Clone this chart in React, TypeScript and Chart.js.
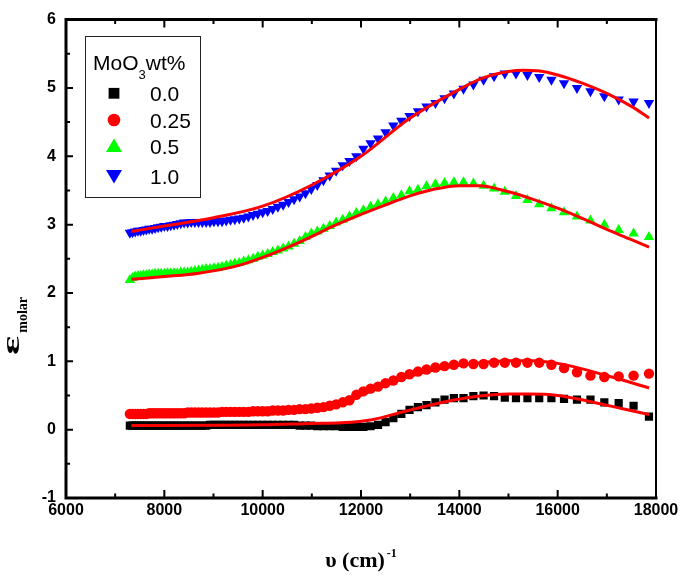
import React, { useEffect, useRef } from "react";
import { Chart, registerables } from "chart.js";
Chart.register(...registerables);

// Wavenumbers of the measured points (cm^-1)
const wavenumbers = [
  7299, 7353, 7407, 7463, 7519, 7576, 7634, 7692, 7752, 7813,
  7874, 7937, 8000, 8065, 8130, 8197, 8264, 8333, 8403, 8475,
  8547, 8621, 8696, 8772, 8850, 8929, 9009, 9091, 9174, 9259,
  9346, 9434, 9524, 9615, 9709, 9804, 9901, 10000, 10101, 10204,
  10309, 10417, 10526, 10638, 10753, 10870, 10989, 11111, 11236, 11364,
  11494, 11628, 11765, 11905, 12048, 12195, 12346, 12500, 12658, 12821,
  12987, 13158, 13333, 13514, 13699, 13889, 14085, 14286, 14493, 14706,
  14925, 15152, 15385, 15625, 15873, 16129, 16393, 16667, 16949, 17241,
  17544, 17857,
];

const eps00 = [
  0.06, 0.06, 0.06, 0.06, 0.06, 0.06, 0.06, 0.06, 0.06, 0.06,
  0.06, 0.06, 0.06, 0.06, 0.06, 0.06, 0.06, 0.06, 0.06, 0.06,
  0.06, 0.06, 0.06, 0.06, 0.06, 0.07, 0.07, 0.07, 0.07, 0.07,
  0.07, 0.07, 0.07, 0.07, 0.07, 0.07, 0.07, 0.07, 0.07, 0.07,
  0.07, 0.07, 0.07, 0.07, 0.06, 0.06, 0.06, 0.05, 0.05, 0.05,
  0.05, 0.04, 0.04, 0.04, 0.04, 0.05, 0.07, 0.11, 0.17, 0.23,
  0.29, 0.33, 0.36, 0.40, 0.44, 0.46, 0.46, 0.49, 0.50, 0.49,
  0.47, 0.46, 0.46, 0.46, 0.46, 0.45, 0.44, 0.44, 0.40, 0.39,
  0.35, 0.19,
];

const eps025 = [
  0.23, 0.23, 0.23, 0.23, 0.23, 0.23, 0.23, 0.24, 0.24, 0.24,
  0.24, 0.24, 0.24, 0.24, 0.24, 0.24, 0.24, 0.24, 0.24, 0.25,
  0.25, 0.25, 0.25, 0.25, 0.25, 0.25, 0.25, 0.25, 0.26, 0.26,
  0.26, 0.26, 0.26, 0.26, 0.26, 0.27, 0.27, 0.27, 0.27, 0.28,
  0.28, 0.28, 0.29, 0.29, 0.30, 0.30, 0.31, 0.32, 0.33, 0.35,
  0.37, 0.40, 0.43, 0.51, 0.56, 0.60, 0.63, 0.68, 0.72, 0.77,
  0.81, 0.85, 0.88, 0.91, 0.93, 0.95, 0.97, 0.96, 0.96, 0.98,
  0.98, 0.98, 0.98, 0.98, 0.95, 0.90, 0.84, 0.79, 0.77, 0.78,
  0.79, 0.82,
];

const eps05 = [
  2.19, 2.22, 2.24, 2.25, 2.25, 2.26, 2.26, 2.27, 2.27, 2.28,
  2.28, 2.28, 2.28, 2.29, 2.29, 2.29, 2.29, 2.30, 2.30, 2.30,
  2.31, 2.32, 2.33, 2.34, 2.35, 2.35, 2.36, 2.37, 2.38, 2.40,
  2.41, 2.43, 2.44, 2.46, 2.48, 2.50, 2.53, 2.55, 2.57, 2.60,
  2.62, 2.65, 2.68, 2.72, 2.76, 2.82, 2.87, 2.90, 2.94, 2.98,
  3.03, 3.07, 3.12, 3.17, 3.21, 3.26, 3.30, 3.34, 3.39, 3.43,
  3.49, 3.51, 3.56, 3.59, 3.61, 3.62, 3.62, 3.60, 3.57, 3.53,
  3.48, 3.42, 3.36, 3.30, 3.24, 3.18, 3.12, 3.06, 3.00, 2.92,
  2.87, 2.82,
];

const eps10 = [
  2.88, 2.89, 2.90, 2.91, 2.91, 2.92, 2.93, 2.94, 2.94, 2.95,
  2.96, 2.97, 2.98, 2.98, 2.99, 3.00, 3.01, 3.02, 3.03, 3.03,
  3.04, 3.04, 3.04, 3.04, 3.04, 3.04, 3.05, 3.05, 3.05, 3.06,
  3.07, 3.08, 3.09, 3.10, 3.12, 3.14, 3.16, 3.18, 3.20, 3.23,
  3.26, 3.29, 3.33, 3.37, 3.41, 3.46, 3.52, 3.58, 3.65, 3.72,
  3.79, 3.87, 3.93, 4.00, 4.11, 4.19, 4.26, 4.35, 4.45, 4.52,
  4.59, 4.66, 4.73, 4.78, 4.85, 4.92, 4.99, 5.05, 5.12, 5.17,
  5.21, 5.21, 5.19, 5.16, 5.12, 5.07, 5.00, 4.95, 4.88, 4.83,
  4.80, 4.78,
];

// Fitted curves
const fitX00 = [7330, 9000, 10000, 11000, 11600, 12250, 12900, 13600, 14300, 15000, 15400, 16000, 16600, 17300, 17860];
const fit00 = [0.06, 0.065, 0.07, 0.09, 0.10, 0.15, 0.27, 0.39, 0.48, 0.52, 0.52, 0.50, 0.42, 0.31, 0.22];

const fitX025 = [7330, 8500, 10000, 11000, 11600, 12250, 12900, 13600, 14300, 15000, 15500, 16000, 16500, 17000, 17300, 17860];
const fit025 = [0.22, 0.23, 0.25, 0.30, 0.39, 0.58, 0.76, 0.89, 0.97, 1.01, 1.01, 0.97, 0.89, 0.79, 0.73, 0.61];

const fitX05 = [7330, 8000, 8700, 9500, 10000, 10800, 11500, 12000, 12500, 13000, 13500, 14000, 14400, 15000, 15500, 16000, 16500, 17000, 17500, 17860];
const fit05 = [2.20, 2.24, 2.29, 2.40, 2.52, 2.76, 3.00, 3.15, 3.29, 3.42, 3.52, 3.57, 3.57, 3.48, 3.37, 3.24, 3.09, 2.93, 2.78, 2.67];

const fitX10 = [7330, 8000, 9000, 10000, 11000, 12000, 13000, 14000, 14500, 15000, 15300, 15600, 16000, 16500, 17000, 17500, 17860];
const fit10 = [2.90, 2.98, 3.10, 3.27, 3.58, 4.00, 4.56, 4.98, 5.15, 5.24, 5.26, 5.25, 5.19, 5.07, 4.92, 4.73, 4.56];

const xTicks = [6000, 8000, 10000, 12000, 14000, 16000, 18000];
const yTicks = [-1, 0, 1, 2, 3, 4, 5, 6];
const legendLabels = ["0.0", "0.25", "0.5", "1.0"];
const legendColors = ["#000000", "#ff0000", "#00ff00", "#0000ff"];

const SANS = '"Liberation Sans", Arial, sans-serif';
const SERIF = '"Liberation Serif", "Times New Roman", serif';

const pts = (xs: number[], ys: number[]) => xs.map((x, i) => ({ x, y: ys[i] }));

const decorPlugin = {
  id: "decor",
  afterDraw(chart: any) {
    const ctx = chart.ctx as CanvasRenderingContext2D;
    const xs = chart.scales.x;
    const ys = chart.scales.y;
    const { left, right, top, bottom } = chart.chartArea;
    ctx.save();
    ctx.strokeStyle = "#000";
    ctx.fillStyle = "#000";

    // frame
    ctx.lineCap = "square";
    ctx.lineWidth = 3;
    ctx.beginPath();
    ctx.moveTo(left, top);
    ctx.lineTo(left, bottom);
    ctx.lineTo(right, bottom);
    ctx.moveTo(left, top);
    ctx.lineTo(right, top);
    ctx.stroke();
    ctx.lineWidth = 2;
    ctx.beginPath();
    ctx.moveTo(right, top);
    ctx.lineTo(right, bottom);
    ctx.stroke();

    // ticks (inward)
    ctx.lineCap = "butt";
    ctx.lineWidth = 2;
    ctx.beginPath();
    for (let i = 0; i < xTicks.length; i++) {
      const v = xTicks[i];
      if (i > 0 && i < xTicks.length - 1) {
        const p = xs.getPixelForValue(v);
        ctx.moveTo(p, bottom); ctx.lineTo(p, bottom - 8);
        ctx.moveTo(p, top); ctx.lineTo(p, top + 8);
      }
      if (i < xTicks.length - 1) {
        const m = xs.getPixelForValue((v + xTicks[i + 1]) / 2);
        ctx.moveTo(m, bottom); ctx.lineTo(m, bottom - 4.5);
        ctx.moveTo(m, top); ctx.lineTo(m, top + 4.5);
      }
    }
    for (let i = 0; i < yTicks.length; i++) {
      const v = yTicks[i];
      if (i > 0 && i < yTicks.length - 1) {
        const p = ys.getPixelForValue(v);
        ctx.moveTo(left, p); ctx.lineTo(left + 7, p);
      }
      if (i < yTicks.length - 1) {
        const m = ys.getPixelForValue((v + yTicks[i + 1]) / 2);
        ctx.moveTo(left, m); ctx.lineTo(left + 4, m);
      }
    }
    ctx.stroke();

    // legend
    ctx.lineWidth = 1;
    ctx.strokeStyle = "#222";
    ctx.strokeRect(85.5, 36.5, 115, 161);
    ctx.fillStyle = "#000";
    ctx.textBaseline = "alphabetic";
    ctx.textAlign = "left";
    ctx.font = `21px ${SANS}`;
    let tx = 93;
    ctx.fillText("MoO", tx, 70);
    tx += ctx.measureText("MoO").width;
    ctx.font = `13px ${SANS}`;
    ctx.fillText("3", tx, 79);
    tx += ctx.measureText("3").width;
    ctx.font = `21px ${SANS}`;
    ctx.fillText("wt%", tx, 70);

    const rows = [93.3, 120, 146, 176];
    const cx = 114;
    for (let i = 0; i < 4; i++) {
      const cy = rows[i];
      ctx.fillStyle = legendColors[i];
      ctx.beginPath();
      if (i === 0) {
        ctx.rect(cx - 5.4, cy - 5.4, 10.8, 10.8);
      } else if (i === 1) {
        ctx.arc(cx, cy, 6.3, 0, Math.PI * 2);
      } else if (i === 2) {
        ctx.moveTo(cx, cy - 7.5);
        ctx.lineTo(cx + 8, cy + 6);
        ctx.lineTo(cx - 8, cy + 6);
        ctx.closePath();
      } else {
        ctx.moveTo(cx - 8, cy - 6);
        ctx.lineTo(cx + 8, cy - 6);
        ctx.lineTo(cx, cy + 7.5);
        ctx.closePath();
      }
      ctx.fill();
      ctx.fillStyle = "#000";
      ctx.font = `21px ${SANS}`;
      ctx.fillText(legendLabels[i], 150, cy + 7.6);
    }

    // x axis title
    ctx.font = `bold 22px ${SERIF}`;
    const main = "\u03c5 (cm)";
    const wMain = ctx.measureText(main).width;
    ctx.font = `bold 12px ${SERIF}`;
    const sup = "-1";
    const wSup = ctx.measureText(sup).width;
    const total = wMain + 2 + wSup;
    const cxT = (left + right) / 2;
    const sx = cxT - total / 2;
    ctx.font = `bold 22px ${SERIF}`;
    ctx.fillText(main, sx, 567);
    ctx.font = `bold 12px ${SERIF}`;
    ctx.fillText(sup, sx + wMain + 2, 557);

    // y axis title (rotated)
    ctx.save();
    ctx.translate(19, 355);
    ctx.rotate(-Math.PI / 2);
    ctx.font = `bold 25px ${SERIF}`;
    const wE = ctx.measureText("\u03b5").width;
    const stretch = Math.min(1.8, 25 / wE);
    ctx.save();
    ctx.scale(stretch, 1);
    ctx.fillText("\u03b5", 0, 0);
    ctx.restore();
    ctx.font = `bold 14px ${SERIF}`;
    ctx.fillText("molar", wE * stretch + 3, 8);
    ctx.restore();

    ctx.restore();
  },
};

export default function App() {
  const ref = useRef<HTMLCanvasElement | null>(null);
  useEffect(() => {
    document.body.style.margin = "0";
    const canvas = ref.current;
    if (!canvas) return;
    const scatterBase = { type: "scatter" as const, showLine: false, pointBorderWidth: 0, order: 1 };
    const fitBase = {
      type: "line" as const,
      showLine: true,
      pointRadius: 0,
      borderColor: "#ff0000",
      borderWidth: 3,
      fill: false,
      cubicInterpolationMode: "monotone" as const,
      order: 0,
    };
    const chart = new Chart(canvas, {
      type: "scatter",
      data: {
        datasets: [
          { ...fitBase, label: "fit 0.0", data: pts(fitX00, fit00) },
          { ...fitBase, label: "fit 0.25", data: pts(fitX025, fit025) },
          { ...fitBase, label: "fit 0.5", data: pts(fitX05, fit05) },
          { ...fitBase, label: "fit 1.0", data: pts(fitX10, fit10) },
          {
            ...scatterBase, label: legendLabels[0], data: pts(wavenumbers, eps00),
            pointStyle: "rect", pointRadius: 5.8, backgroundColor: legendColors[0],
          },
          {
            ...scatterBase, label: legendLabels[1], data: pts(wavenumbers, eps025),
            pointStyle: "circle", pointRadius: 5.2, backgroundColor: legendColors[1],
          },
          {
            ...scatterBase, label: legendLabels[2], data: pts(wavenumbers, eps05),
            pointStyle: "triangle", pointRadius: 6, backgroundColor: legendColors[2],
          },
          {
            ...scatterBase, label: legendLabels[3], data: pts(wavenumbers, eps10),
            pointStyle: "triangle", pointRotation: 180, pointRadius: 6, backgroundColor: legendColors[3],
          },
        ] as any,
      },
      options: {
        animation: false,
        responsive: false,
        devicePixelRatio: 1,
        layout: { padding: { left: 0, top: 19, right: 31, bottom: 0 } },
        plugins: { legend: { display: false }, tooltip: { enabled: false }, title: { display: false } },
        scales: {
          x: {
            type: "linear",
            min: 6000,
            max: 18000,
            afterBuildTicks: (s: any) => { s.ticks = xTicks.map((v) => ({ value: v })); },
            afterFit: (s: any) => { s.height = 80; },
            ticks: {
              font: { family: SANS, size: 16, weight: "bold" }, color: "#000", padding: 3,
              maxRotation: 0, autoSkip: false, callback: (v: any) => String(v),
            },
            grid: { display: false, drawTicks: false },
            border: { display: false },
          },
          y: {
            type: "linear",
            min: -1,
            max: 6,
            afterBuildTicks: (s: any) => { s.ticks = yTicks.map((v) => ({ value: v })); },
            afterFit: (s: any) => { s.width = 66; },
            ticks: {
              font: { family: SANS, size: 16, weight: "bold" }, color: "#000", padding: 10,
              autoSkip: false, callback: (v: any) => String(v),
            },
            grid: { display: false, drawTicks: false },
            border: { display: false },
          },
        },
      } as any,
      plugins: [decorPlugin],
    });
    return () => chart.destroy();
  }, []);
  return (
    <div style={{ position: "absolute", left: 0, top: 0, width: 687, height: 578, background: "#fff" }}>
      <canvas ref={ref} width={687} height={578} style={{ width: 687, height: 578, display: "block" }} />
    </div>
  );
}
